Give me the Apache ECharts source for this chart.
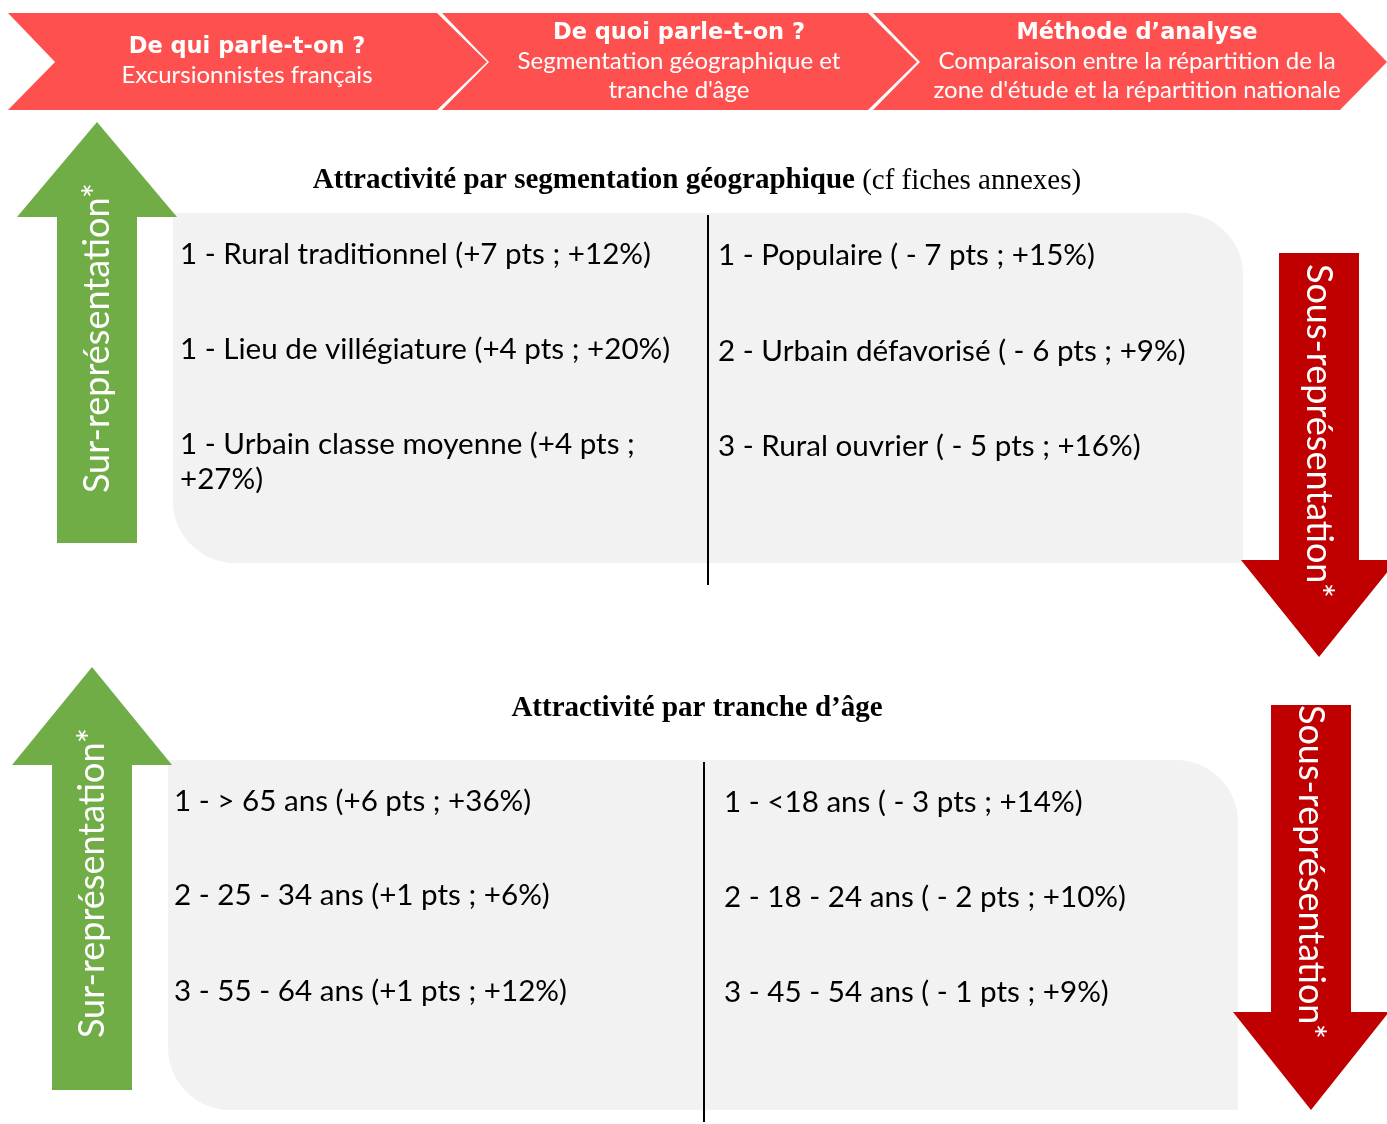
<!DOCTYPE html>
<html><head><meta charset="utf-8">
<script src="https://cdn.jsdelivr.net/npm/echarts@6/dist/echarts.min.js"></script>
<style>html,body{margin:0;padding:0;background:#fff}#c{width:1387px;height:1124px}</style>
</head><body><div id="c"></div>
<script>
// ---- Data ----
const headerTitles = ["De qui parle-t-on ?", "De quoi parle-t-on ?", "Méthode d\u2019analyse"];
const headerSubtitles = [
  ["Excursionnistes français"],
  ["Segmentation géographique et", "tranche d'âge"],
  ["Comparaison entre la répartition de la", "zone d'étude et la répartition nationale"]
];
const sectionTitles = ["Attractivité par segmentation géographique", "Attractivité par tranche d\u2019âge"];
const sectionNotes = [" (cf fiches annexes)", ""];
const geoOver = ["1 - Rural traditionnel (+7 pts ; +12%)", "1 - Lieu de villégiature (+4 pts ; +20%)", "1 - Urbain classe moyenne (+4 pts ;\n+27%)"];
const geoUnder = ["1 - Populaire ( - 7 pts ; +15%)", "2 - Urbain défavorisé ( - 6 pts ; +9%)", "3 - Rural ouvrier ( - 5 pts ; +16%)"];
const ageOver = ["1 - > 65 ans (+6 pts ; +36%)", "2 - 25 - 34 ans (+1 pts ; +6%)", "3 - 55 - 64 ans (+1 pts ; +12%)"];
const ageUnder = ["1 - <18 ans ( - 3 pts ; +14%)", "2 - 18 - 24 ans ( - 2 pts ; +10%)", "3 - 45 - 54 ans ( - 1 pts ; +9%)"];
const overLabel = "Sur-représentation*";
const underLabel = "Sous-représentation*";

// ---- Layout ----
const FONT = "Lato, 'Noto Sans', sans-serif";
const BOLDFONT = "'DejaVu Sans', Lato, sans-serif";
const SERIF = "'Liberation Serif', 'DejaVu Serif', serif";
const els = [];

// header chevrons
const chev = [
  {x0: 8, x1: 437, notch: 47, tip: 50, cx: 247},
  {x0: 442, x1: 868, notch: 47, tip: 49, cx: 679},
  {x0: 873, x1: 1340, notch: 47, tip: 47, cx: 1137}
];
const hy0 = 13, hy1 = 110, hym = 62;
chev.forEach((c, i) => {
  els.push({type: 'polygon', shape: {points: [[c.x0, hy0], [c.x1, hy0], [c.x1 + c.tip, hym], [c.x1, hy1], [c.x0, hy1], [c.x0 + c.notch, hym]]}, style: {fill: '#ff5050'}});
  const lines = headerSubtitles[i];
  const startY = lines.length === 1 ? 47 : 33;
  els.push({type: 'text', x: c.cx, y: startY, style: {text: headerTitles[i], fill: '#fff', font: "bold 22.5px " + BOLDFONT, align: 'center', verticalAlign: 'middle'}});
  lines.forEach((l, j) => {
    els.push({type: 'text', x: c.cx, y: startY + 28.5 * (j + 1), style: {text: l, fill: '#fff', font: "24px " + FONT, align: 'center', verticalAlign: 'middle'}});
  });
});

function upArrow(cx, tipY, headY, bottom, color, label, labelY) {
  els.push({type: 'polygon', shape: {points: [[cx, tipY], [cx + 80, headY], [cx + 40, headY], [cx + 40, bottom], [cx - 40, bottom], [cx - 40, headY], [cx - 80, headY]]}, style: {fill: color}});
  els.push({type: 'text', x: cx, y: labelY, rotation: Math.PI / 2, style: {text: label, fill: '#fff', font: "36px " + FONT, align: 'center', verticalAlign: 'middle'}});
}
function downArrow(cx, top, headY, tipY, color, label, labelY) {
  els.push({type: 'polygon', shape: {points: [[cx - 40, top], [cx + 40, top], [cx + 40, headY], [cx + 78, headY], [cx, tipY], [cx - 78, headY], [cx - 40, headY]]}, style: {fill: color}});
  els.push({type: 'text', x: cx, y: labelY, rotation: -Math.PI / 2, style: {text: label, fill: '#fff', font: "36px " + FONT, align: 'center', verticalAlign: 'middle'}});
}

function section(s) {
  els.push({type: 'rect', shape: {x: s.bx, y: s.by, width: 1070, height: 350, r: [0, 62, 0, 62]}, style: {fill: '#f2f2f2'}});
  els.push({type: 'line', shape: {x1: s.lineX, y1: s.by + 2, x2: s.lineX, y2: s.lineEnd}, style: {stroke: '#000', lineWidth: 2}});
  els.push({type: 'text', x: 697, y: s.ty, style: {
    text: '{b|' + s.title + '}' + (s.note ? '{n|' + s.note + '}' : ''),
    align: 'center', verticalAlign: 'middle',
    rich: {b: {font: "bold 29px " + SERIF, fill: '#000'}, n: {font: "29px " + SERIF, fill: '#000'}}
  }});
  s.left.forEach((t, i) => {
    els.push({type: 'text', x: s.lx, y: s.ly[i], style: {text: t, fill: '#000', font: "29.6px " + FONT, align: 'left', verticalAlign: 'top', lineHeight: 35}});
  });
  s.right.forEach((t, i) => {
    els.push({type: 'text', x: s.rx, y: s.ry[i], style: {text: t, fill: '#000', font: "29.6px " + FONT, align: 'left', verticalAlign: 'top', lineHeight: 35}});
  });
}

section({bx: 173, by: 213, lineX: 708, lineEnd: 585, ty: 181, title: sectionTitles[0], note: sectionNotes[0],
  left: geoOver, lx: 180, ly: [237, 332, 427], right: geoUnder, rx: 718, ry: [238, 334, 429]});
section({bx: 168, by: 760, lineX: 704, lineEnd: 1122, ty: 709, title: sectionTitles[1], note: sectionNotes[1],
  left: ageOver, lx: 174, ly: [784, 878, 974], right: ageUnder, rx: 724, ry: [785, 880, 975]});

upArrow(97, 122, 217, 543, '#70ad47', overLabel, 338);
downArrow(1319, 253, 560, 657, '#c00000', underLabel, 431);
upArrow(92, 667, 765, 1090, '#70ad47', overLabel, 883);
downArrow(1311, 705, 1012, 1110, '#c00000', underLabel, 872);

const chart = echarts.init(document.getElementById('c'));
chart.setOption({animation: false, graphic: {elements: els}});
</script></body></html>
